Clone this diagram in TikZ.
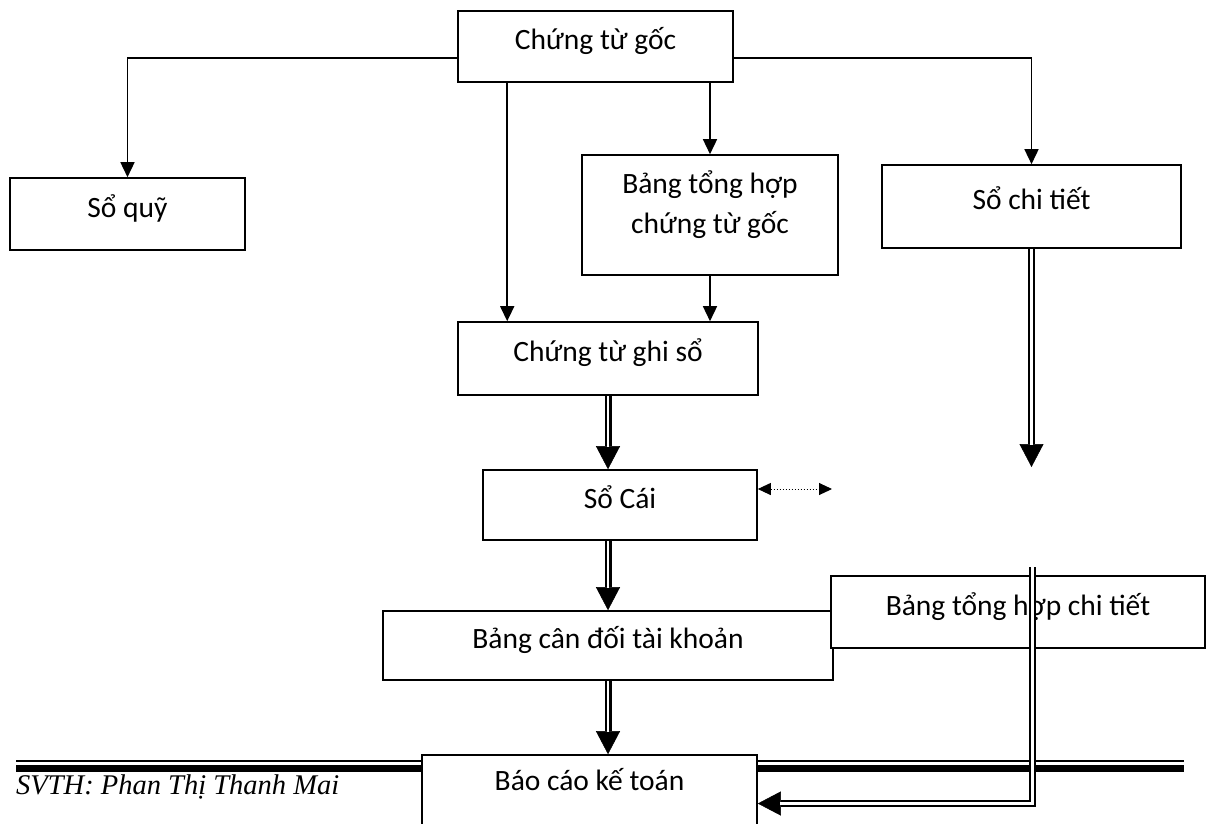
\documentclass[tikz,border=0pt]{standalone}
\usepackage{fontspec}
\setmainfont{Carlito}
\newfontfamily\footfont{Liberation Serif}
\usetikzlibrary{arrows.meta,calc}
\begin{document}
\begin{tikzpicture}[x=1pt,y=-1pt,
  box/.style={draw, line width=1.6pt, fill=white, inner sep=0pt,
    font=\fontsize{29.5}{40}\selectfont, text height=6pt, text depth=0pt},
  sarrow/.style={line width=1.5pt, -{Triangle[width=14pt,length=15pt]}},
  darrow/.style={line width=7pt, -{Triangle[width=24pt,length=23pt,line width=0.5pt]},
    postaction={draw, white, line width=2.3pt, -, shorten >=22pt}},
  dotarrow/.style={line width=1pt, dotted,
    {Triangle[width=12pt,length=13pt]}-{Triangle[width=12pt,length=13pt]}},
  rule/.style={line cap=butt}]
\useasboundingbox (0,0) rectangle (1209,823);
\clip (0,0) rectangle (1209,823);

% page rules
\coordinate (r1) at (16,761);
\coordinate (r2) at (1184,761);
\coordinate (r3) at (16,768.5);
\coordinate (r4) at (1184,768.5);
\draw[rule, line width=1.5pt] (r1) -- (r2);
\draw[rule, line width=7.5pt] (r3) -- (r4);

% boxes
\node[box, minimum width=275pt, minimum height=71pt] (cg) at (595.5,46.5) {Chứng từ gốc};
\node[box, minimum width=235pt, minimum height=72pt] (sq) at (127.5,214) {Sổ quỹ};
\node[box, minimum width=256pt, minimum height=120pt, text height=0pt] (bth) at (710,215)
  {\raisebox{3pt}[0pt][0pt]{\begin{tabular}{@{}c@{}}Bảng tổng hợp\\chứng từ gốc\end{tabular}}};
\node[box, minimum width=299pt, minimum height=83pt] (sct) at (1031.5,206.5) {Sổ chi tiết};
\node[box, minimum width=300pt, minimum height=73pt] (ctgs) at (608,358.5) {Chứng từ ghi sổ};
\node[box, minimum width=274pt, minimum height=70pt] (sc) at (620,505) {Sổ Cái};
\node[box, minimum width=450pt, minimum height=69pt] (bcd) at (608,645.5) {Bảng cân đối tài khoản};
\node[box, minimum width=374pt, minimum height=72pt] (btct) at (1018,612) {Bảng tổng hợp chi tiết};
\node[box, minimum width=335pt, minimum height=85pt, text height=0pt, text depth=15pt] (bc) at (589.5,797.5) {Báo cáo kế toán};

% footer
\node[anchor=base west, inner sep=0pt, font=\footfont\itshape\fontsize{28.5}{30}\selectfont] (svth) at (16,794) {SVTH: Phan Thị Thanh Mai};

% single arrows
\draw[sarrow] ([yshift=-11.5pt]cg.west) -| (sq.north);
\draw[sarrow] ([yshift=-11.5pt]cg.east) -| (sct.north);
\draw[sarrow] ([xshift=50pt]cg.south west) -- ([xshift=50pt]ctgs.north west);
\draw[sarrow] (cg.south -| bth.north) -- (bth.north);
\draw[sarrow] (bth.south) -- (bth.south |- ctgs.north);

% double arrows
\draw[darrow] (ctgs.south) -- (ctgs.south |- sc.north);
\draw[darrow] (bcd.north |- sc.south) -- (bcd.north);
\draw[darrow] (bcd.south) -- (bcd.south |- bc.north);
\coordinate (e1) at (1031.5,467);
\draw[darrow] (sct.south) -- (e1);
\coordinate (s2) at (1032.5,567);
\coordinate (e2) at (0,803.5);
\draw[darrow] (s2) |- (bc.east |- e2);

% dotted two-way arrow
\coordinate (dend) at (832,489);
\draw[dotarrow] ([yshift=16pt]sc.east) -- (dend);
\end{tikzpicture}
\end{document}
